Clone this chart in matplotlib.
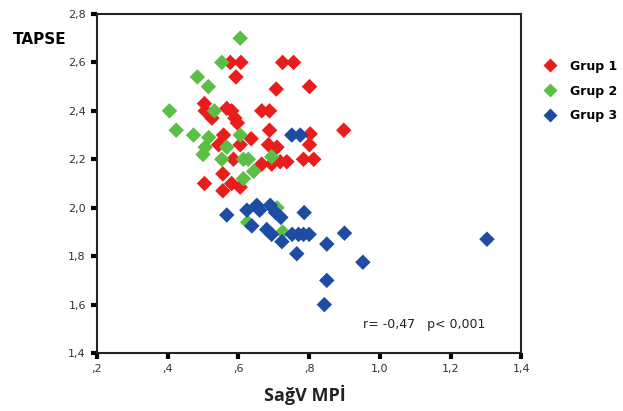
import matplotlib
matplotlib.use("Agg")
import matplotlib.pyplot as plt
from matplotlib.lines import Line2D

# Data
g1_x = [0.577, 0.607, 0.725, 0.756, 0.593, 0.707, 0.801, 0.504, 0.506, 0.525,
        0.567, 0.581, 0.590, 0.597, 0.666, 0.688, 0.688, 0.898, 0.558, 0.636,
        0.803, 0.544, 0.605, 0.685, 0.709, 0.801, 0.586, 0.666, 0.694, 0.718,
        0.737, 0.784, 0.813, 0.556, 0.504, 0.556, 0.581, 0.605]
g1_y = [2.60, 2.60, 2.60, 2.60, 2.54, 2.49, 2.50, 2.43, 2.40, 2.37,
        2.41, 2.40, 2.37, 2.35, 2.40, 2.40, 2.32, 2.32, 2.30, 2.285,
        2.305, 2.26, 2.26, 2.26, 2.25, 2.26, 2.20, 2.18, 2.18, 2.19,
        2.19, 2.20, 2.20, 2.14, 2.10, 2.07, 2.10, 2.085]

g2_x = [0.605, 0.553, 0.484, 0.515, 0.405, 0.532, 0.424, 0.473, 0.516, 0.506,
        0.500, 0.605, 0.567, 0.553, 0.614, 0.628, 0.643, 0.614, 0.694, 0.709,
        0.626, 0.725]
g2_y = [2.70, 2.60, 2.54, 2.50, 2.40, 2.40, 2.32, 2.30, 2.29, 2.25,
        2.22, 2.30, 2.25, 2.20, 2.20, 2.20, 2.15, 2.12, 2.21, 2.00,
        1.94, 1.90]

g3_x = [0.751, 0.775, 0.567, 0.624, 0.652, 0.660, 0.690, 0.705, 0.720, 0.786,
        0.638, 0.680, 0.694, 0.723, 0.752, 0.770, 0.784, 0.800, 0.765, 0.850,
        0.900, 0.952, 0.850, 0.843, 1.303]
g3_y = [2.30, 2.30, 1.97, 1.99, 2.01, 1.99, 2.01, 1.98, 1.96, 1.98,
        1.925, 1.91, 1.89, 1.86, 1.89, 1.89, 1.89, 1.89, 1.81, 1.85,
        1.895, 1.775, 1.70, 1.60, 1.87]

groups = ["Grup 1", "Grup 2", "Grup 3"]
colors = ["#ea1d1d", "#5bbf45", "#1d4ca2"]

x_ticks = [0.2, 0.4, 0.6, 0.8, 1.0, 1.2, 1.4]
x_ticklabels = [",2", ",4", ",6", ",8", "1,0", "1,2", "1,4"]
y_ticks = [1.4, 1.6, 1.8, 2.0, 2.2, 2.4, 2.6, 2.8]
y_ticklabels = ["1,4", "1,6", "1,8", "2,0", "2,2", "2,4", "2,6", "2,8"]

fig = plt.figure(figsize=(6.23, 4.11), dpi=100)
ax = fig.add_axes([0.1557, 0.141, 0.681, 0.825])

for xs, ys, c, lab in zip([g1_x, g2_x, g3_x], [g1_y, g2_y, g3_y], colors, groups):
    ax.scatter(xs, ys, marker="D", s=62, color=c, edgecolors="none", label=lab, zorder=3)

ax.set_xlim(0.2, 1.4)
ax.set_ylim(1.4, 2.8)
ax.set_xticks(x_ticks)
ax.set_xticklabels(x_ticklabels)
ax.set_yticks(y_ticks)
ax.set_yticklabels(y_ticklabels)
ax.tick_params(axis="both", direction="out", length=4, width=3, color="black",
               labelsize=8, labelcolor="#333333", pad=4)
for sp in ax.spines.values():
    sp.set_linewidth(1.5)
    sp.set_color("#222222")

fig.text(0.02, 0.905, "TAPSE", fontsize=11, fontweight="bold", family="DejaVu Sans",
         ha="left", va="center")
fig.text(0.49, 0.04, "SağV MPİ", fontsize=13, fontweight="bold", family="Open Sans",
         ha="center", va="center", color="#222222")

ax.text(0.627, 0.083, "r= -0,47   p< 0,001", transform=ax.transAxes, fontsize=9,
        ha="left", va="center", color="#222222")

handles = [Line2D([0], [0], marker="D", linestyle="none", markersize=7,
                  markerfacecolor=c, markeredgecolor="none") for c in colors]
leg = fig.legend(handles, groups, loc="upper left", bbox_to_anchor=(0.845, 0.882),
                 frameon=False, handletextpad=0.6, labelspacing=0.95,
                 prop={"weight": "bold", "size": 9})

fig.savefig("out.png", dpi=100)
